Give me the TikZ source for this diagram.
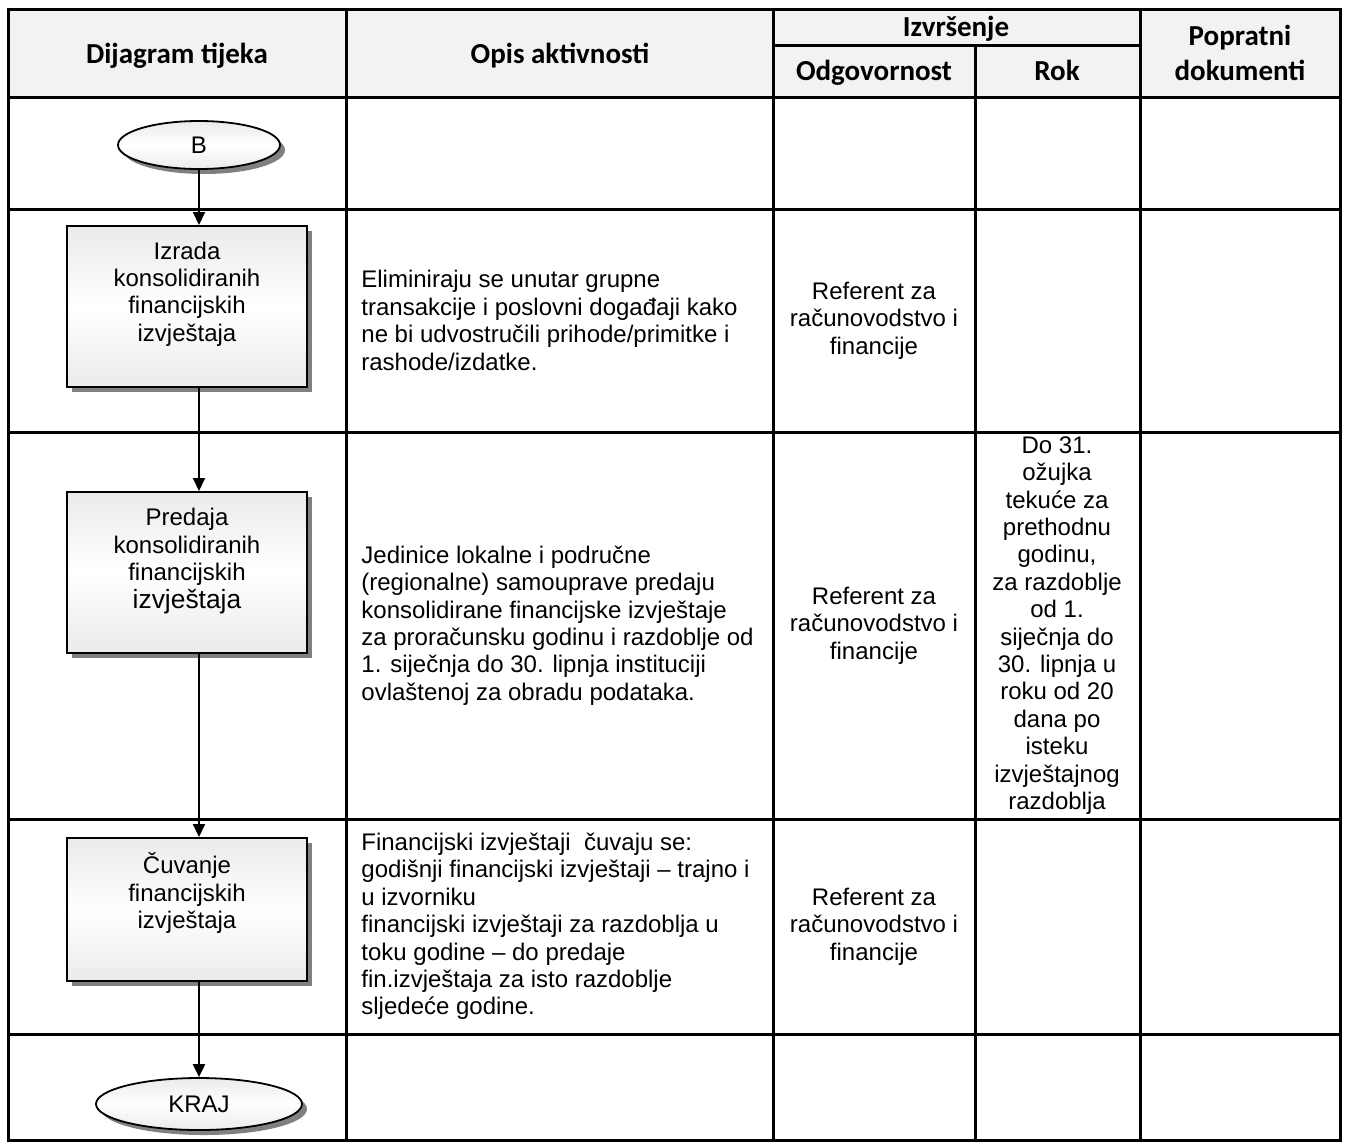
\documentclass[tikz,border=0pt]{standalone}
\usepackage{fontspec}
\setmainfont{Liberation Sans}
\newfontfamily\headfont{Carlito}
\usetikzlibrary{arrows.meta,shapes.geometric,shadows}

\tikzset{
  grid/.style={line width=1.5pt},
  head/.style={font=\headfont\bfseries\fontsize{14.5}{17.5}\selectfont,inner sep=0pt,anchor=base},
  body/.style={font=\fontsize{12}{13.7}\selectfont,inner sep=0pt},
  shade/.style={top color=gray!16,bottom color=gray!16,middle color=white},
  dshadow/.style={drop shadow={shadow xshift=2.5pt,shadow yshift=-2.5pt,fill=gray,opacity=1}},
  actbox/.style={shade,dshadow,draw,line width=1pt,inner sep=0pt,minimum width=120pt},
  term/.style={ellipse,shade,dshadow,draw,line width=0.9pt,inner sep=0pt},
  flow/.style={line width=1pt,-{Triangle[length=6.5pt,width=6pt]}}
}

\begin{document}
\begin{tikzpicture}[x=0.5pt,y=-0.5pt]
	\useasboundingbox (0,0) rectangle (1347,1142);
	% table
	\fill[gray!10] (8,9) rectangle (1340,97);
	\draw[grid] (8,9) rectangle (1340,1140);
	\draw[grid] (346,9) -- (346,1140)
	            (773,9) -- (773,1140)
	            (1140,9) -- (1140,1140)
	            (975,45) -- (975,1140)
	            (773,45) -- (1140,45);
	\draw[grid] (8,97) -- (1340,97)
	            (8,209) -- (1340,209)
	            (8,432) -- (1340,432)
	            (8,819) -- (1340,819)
	            (8,1034) -- (1340,1034);
	% header
	\node[head] (hdij) at (177,63) {Dijagram tijeka};
	\node[head] (hopis) at (560,63) {Opis aktivnosti};
	\node[head] (hizv) at (956,36) {Izvršenje};
	\node[head] (hodg) at (874,80) {Odgovornost};
	\node[head] (hrok) at (1057,80) {Rok};
	\node[head] (hpop) at (1240,45) {Popratni};
	\node[head] (hdok) at (1240,80) {dokumenti};
	% flow chart
	\coordinate (flow) at (199,0);
	\node[term,minimum width=81pt,minimum height=24pt] (b) at (199,145)
	  {\fontsize{12}{13.7}\selectfont B};
	\node[actbox,minimum height=80.5pt] (izrada) at (187,306.5) {};
	\node[body,align=center] (izradat) at (187,294)
	  {Izrada\\konsolidiranih\\financijskih\\izvještaja};
	\node[actbox,minimum height=80.5pt] (predaja) at (187,572.5) {};
	\node[body,align=center] (predajat) at (187,561)
	  {Predaja\\konsolidiranih\\financijskih\\{\fontsize{13.2}{14}\selectfont izvještaja}};
	\node[actbox,minimum height=71.5pt] (cuvanje) at (187,909.5) {};
	\node[body,align=center] (cuvanjet) at (187,893)
	  {Čuvanje\\financijskih\\izvještaja};
	\node[term,minimum width=103pt,minimum height=26pt] (kraj) at (199,1104)
	  {\fontsize{12}{13.7}\selectfont KRAJ};
	\draw[flow] (b) -- (izrada.north -| flow);
	\draw[flow] (izrada.south -| flow) -- (predaja.north -| flow);
	\draw[flow] (predaja.south -| flow) -- (cuvanje.north -| flow);
	\draw[flow] (cuvanje.south -| flow) -- (kraj);
	% descriptions
	\node[body,align=left,anchor=west] (opis1) at (361,320.5)
	  {Eliminiraju se unutar grupne\\transakcije i poslovni događaji kako\\ne bi udvostručili prihode/primitke i\\rashode/izdatke.};
	\node[body,align=left,anchor=west] (opis2) at (361,625.5)
	  {Jedinice lokalne i područne\\(regionalne) samouprave predaju\\konsolidirane financijske izvještaje\\za proračunsku godinu i razdoblje od\\1. siječnja do 30. lipnja instituciji\\ovlaštenoj za obradu podataka.};
	\node[body,align=left,anchor=west] (opis3) at (361,926.5)
	  {Financijski izvještaji\ \ čuvaju se:\\godišnji financijski izvještaji -- trajno i\\u izvorniku\\financijski izvještaji za razdoblja u\\toku godine -- do predaje\\fin.izvještaja za isto razdoblje\\sljedeće godine.};
	% responsibility and deadline
	\node[body,align=center] (odg1) at (874,320.5) {Referent za\\računovodstvo i\\financije};
	\node[body,align=center] (odg2) at (874,625.5) {Referent za\\računovodstvo i\\financije};
	\node[body,align=center] (odg3) at (874,926.5) {Referent za\\računovodstvo i\\financije};
	\node[body,align=center] (rok2) at (1057,625.5)
	  {Do 31.\\ožujka\\tekuće za\\prethodnu\\godinu,\\za razdoblje\\od 1.\\siječnja do\\30. lipnja u\\roku od 20\\dana po\\isteku\\izvještajnog\\razdoblja};
\end{tikzpicture}
\end{document}
